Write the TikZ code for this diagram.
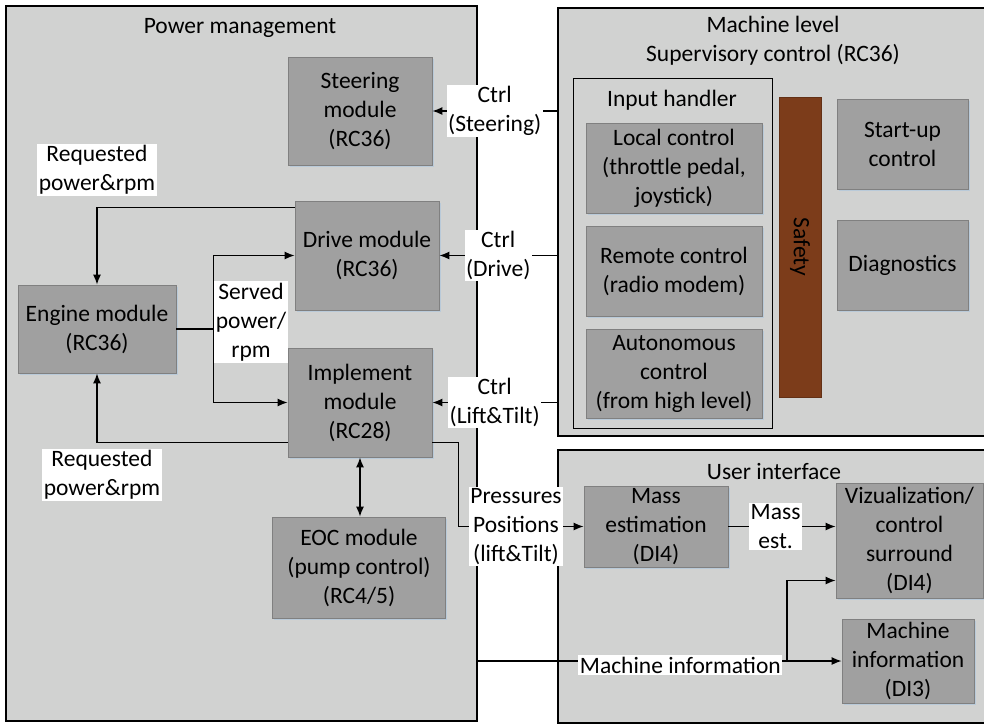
\documentclass[tikz,border=0pt]{standalone}
\usepackage{fontspec}
\setmainfont{Carlito}
\usetikzlibrary{arrows.meta,shadows}
\definecolor{panelgray}{RGB}{209,210,209}
\definecolor{modgray}{RGB}{160,160,160}
\definecolor{modedge}{RGB}{128,128,128}
\definecolor{safetybrown}{RGB}{124,60,26}
\definecolor{shadowblue}{RGB}{180,200,220}
\tikzset{
  panel/.style={draw=black, line width=1.6pt, fill=panelgray, anchor=north west, inner sep=0pt},
  module/.style={draw=modedge, fill=modgray, line width=0.8pt, align=center, inner sep=0pt,
    drop shadow={shadow xshift=1.5pt, shadow yshift=-1.5pt, fill=shadowblue, opacity=0.8}},
  lbl/.style={fill=white, align=center, inner sep=1.5pt},
  conn/.style={line width=1.3pt},
  arr/.style={conn, -{Latex[length=10pt,width=8pt]}},
  dbl/.style={conn, {Latex[length=10pt,width=8pt]}-{Latex[length=10pt,width=8pt]}},
}
\begin{document}
\begin{tikzpicture}[x=1pt,y=-1pt,font=\fontsize{23.5}{29}\selectfont]
  \clip (0,0) rectangle (984,724);
  \fill[white] (0,0) rectangle (984,724);
  % panels
  \node[panel, minimum width=471pt, minimum height=715pt] (pm) at (5,5) {};
  \node[panel, minimum width=450pt, minimum height=428pt] (mach) at (557,7) {};
  \node[panel, minimum width=450pt, minimum height=273pt] (ui) at (557,449) {};
  \node[panel, line width=1.2pt, minimum width=199pt, minimum height=350pt] (inh) at (573,78) {};
  \node (pmtitle) at (240,28) {Power management};
  \node[align=center] (machtitle) at (773,41) {Machine level\\Supervisory control (RC36)};
  \node (inhtitle) at (672,100) {Input handler};
  \node (uititle) at (774,471) {User interface};

  % power management
  \node[module, minimum width=144pt, minimum height=108pt] (steer) at (360,111) {Steering\\module\\(RC36)};
  \node[module, minimum width=144pt, minimum height=109pt] (drive) at (367,255.5) {Drive module\\(RC36)};
  \node[module, minimum width=158pt, minimum height=88pt] (engine) at (97,329) {Engine module\\(RC36)};
  \node[module, minimum width=144pt, minimum height=109pt] (impl) at (360,402.5) {Implement\\module\\(RC28)};
  \node[module, minimum width=173pt, minimum height=101pt] (eoc) at (359,567.5) {EOC module\\(pump control)\\(RC4/5)};

  % machine level
  \node[module, minimum width=176pt, minimum height=90pt] (local) at (674,168) {Local control\\(throttle pedal,\\joystick)};
  \node[module, minimum width=176pt, minimum height=90pt] (remote) at (674,271) {Remote control\\(radio modem)};
  \node[module, minimum width=176pt, minimum height=89pt] (auton) at (674,373.5) {Autonomous\\control\\(from high level)};
  \node[draw=safetybrown!80!black, fill=safetybrown, text=black, rotate=-90, inner sep=0pt,
    minimum width=300pt, minimum height=42pt] (safety) at (800,247) {Safety};
  \node[module, minimum width=131pt, minimum height=90pt] (startup) at (902.5,144) {Start-up\\control};
  \node[module, minimum width=131pt, minimum height=90pt] (diag) at (902.5,265) {Diagnostics};

  % user interface
  \node[module, minimum width=144pt, minimum height=81pt] (mass) at (656,526.5) {Mass\\estimation\\(DI4)};
  \node[module, minimum width=147pt, minimum height=115pt] (viz) at (909.5,540.5) {Vizualization/\\control\\surround\\(DI4)};
  \node[module, minimum width=132pt, minimum height=84pt] (minfo) at (908,661) {Machine\\information\\(DI3)};

  % connectors
  \draw[arr] (steer.east -| mach.west) -- node[lbl] (ctrlsteer) {Ctrl\\(Steering)} (steer.east);
  \draw[arr] (drive.east -| mach.west) -- node[lbl] (ctrldrive) {Ctrl\\(Drive)} (drive.east);
  \draw[arr] (impl.east -| mach.west) -- node[lbl] (ctrllift) {Ctrl\\(Lift\&Tilt)} (impl.east);
  \draw[arr] ([yshift=-7pt]drive.north west) -| (engine.north);
  \draw[arr] ([yshift=15pt]impl.south west) -| (engine.south);
  \draw[arr] (engine.east) -- ++(37,0) |- (drive.west);
  \draw[arr] (engine.east) -- ++(37,0) |- (impl.west);
  \draw[dbl] (impl.south) -- (impl.south |- eoc.north);
  \draw[arr] ([yshift=15pt]impl.south east) -- ++(26,0) |- node[lbl, pos=0.73] (press) {Pressures\\Positions\\(lift\&Tilt)} (mass.west);
  \draw[arr] (mass.east) -- node[lbl, pos=0.44] (massest) {Mass\\est.} (mass.east -| viz.west);
  \draw[arr] (pm.east |- minfo.west) -- node[lbl, pos=0.557, yshift=-4pt] (minfolbl) {Machine information} (minfo.west);
  \coordinate (mibr) at (787,661);
  \draw[arr] (mibr) |- ([yshift=-40pt]viz.west);
  \node[lbl] (reqtop) at (97,170) {Requested\\power\&rpm};
  \node[lbl] (reqbot) at (102,475) {Requested\\power\&rpm};
  \node[lbl] (served) at (251,322) {Served\\power/\\rpm};
\end{tikzpicture}
\end{document}
